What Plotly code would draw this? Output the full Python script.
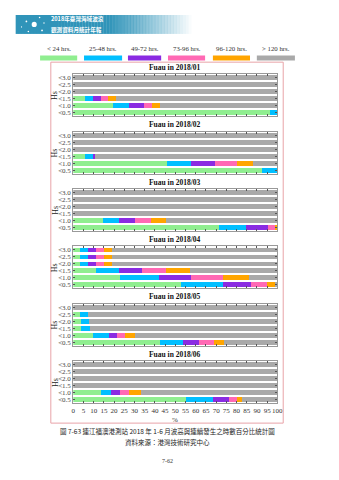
import plotly.graph_objects as go

# ---------------- data ----------------
rows = ["<0.5", "<1.0", "<1.5", "<2.0", "<2.5", "<3.0"]
months = ["2018/01", "2018/02", "2018/03", "2018/04", "2018/05", "2018/06"]
series_names = ["< 24 hrs.", "25-48 hrs.", "49-72 hrs.", "73-96 hrs.", "96-120 hrs.", "> 120 hrs."]
series_colors = ["#90EE90", "#00BFFF", "#8A2BE2", "#FF69B4", "#FFA500", "#A9A9A9"]

# values per month, per row (<0.5 ... <3.0), in %
lt24 = [
    [96.2, 19.6, 5.6, 0, 0, 0],
    [92.3, 45.9, 5.6, 0, 0, 0],
    [71.5, 14.8, 0, 0, 0, 0],
    [52.6, 22.8, 11.0, 3.3, 3.3, 3.3],
    [42.3, 9.9, 3.8, 3.7, 3.3, 0],
    [55.3, 13.7, 0, 0, 0, 0],
]
h25_48 = [
    [3.8, 7.7, 4.0, 0, 0, 0],
    [7.7, 11.8, 4.1, 0, 0, 0],
    [13.2, 7.7, 0, 0, 0, 0],
    [20.9, 19.3, 11.3, 3.8, 3.8, 3.8],
    [11.6, 7.7, 4.3, 4.0, 4.1, 0],
    [13.1, 4.6, 0, 0, 0, 0],
]
h49_72 = [
    [0, 7.2, 3.8, 0, 0, 0],
    [0, 11.6, 1.1, 0, 0, 0],
    [10.8, 7.7, 0, 0, 0, 0],
    [13.7, 15.6, 11.6, 4.0, 4.0, 4.0],
    [7.8, 4.0, 0, 0, 0, 0],
    [7.8, 4.6, 0, 0, 0, 0],
]
h73_96 = [
    [0, 4.0, 3.8, 0, 0, 0],
    [0, 10.8, 0, 0, 0, 0],
    [3.5, 7.7, 0, 0, 0, 0],
    [7.8, 15.5, 11.5, 3.8, 3.8, 3.8],
    [7.2, 3.8, 0, 0, 0, 0],
    [4.0, 4.3, 0, 0, 0, 0],
]
h96_120 = [
    [0, 4.0, 3.8, 0, 0, 0],
    [0, 8.0, 0, 0, 0, 0],
    [1.0, 7.5, 0, 0, 0, 0],
    [4.0, 12.8, 11.8, 4.0, 4.0, 4.0],
    [5.1, 4.8, 0, 0, 0, 0],
    [2.4, 5.9, 0, 0, 0, 0],
]
gt120 = [
    [0, 57.5, 79.0, 100, 100, 100],
    [0, 11.9, 89.2, 100, 100, 100],
    [0, 54.6, 100, 100, 100, 100],
    [1.0, 14.0, 42.8, 81.1, 81.1, 81.1],
    [26.0, 69.8, 91.9, 92.3, 92.6, 100],
    [17.4, 66.9, 100, 100, 100, 100],
]
x_ticks = list(range(0, 101, 5))

all_series = [lt24, h25_48, h49_72, h73_96, h96_120, gt120]

W, H = 339, 480


def px(x):
    return x / W


def py(y):
    return 1 - y / H


SERIF = "Liberation Serif"
CJK = "Noto Sans CJK TC"

annotations = []
shapes = []


def label(text, x, y, size, family=SERIF, color="#333", xanchor="center",
          yanchor="middle", **kw):
    annotations.append(dict(text=text, x=px(x), y=py(y), xref="paper", yref="paper",
                            xanchor=xanchor, yanchor=yanchor, showarrow=False,
                            font=dict(family=family, size=size, color=color), **kw))


fig = go.Figure()
layout = dict(
    width=W, height=H, margin=dict(l=0, r=0, t=0, b=0),
    paper_bgcolor="white", plot_bgcolor="white",
    showlegend=False, barmode="stack", bargap=0.3,
)

plot_l, plot_r = 73, 282
first_top, pitch, plot_h = 74.5, 57.5, 42

for i, m in enumerate(months):
    xa = "x" if i == 0 else f"x{i+1}"
    ya = "y" if i == 0 else f"y{i+1}"
    for s, vals in enumerate(all_series):
        fig.add_trace(go.Bar(
            x=vals[i], y=rows, orientation="h",
            marker=dict(color=series_colors[s], line=dict(width=0)),
            xaxis=xa, yaxis=ya, name=series_names[s], hoverinfo="skip",
        ))
    top = first_top + i * pitch
    bot = top + plot_h
    xkey = "xaxis" if i == 0 else f"xaxis{i+1}"
    ykey = "yaxis" if i == 0 else f"yaxis{i+1}"
    layout[xkey] = dict(
        domain=[px(plot_l), px(plot_r)], anchor=ya, range=[0, 100],
        tickmode="array", tickvals=x_ticks, ticktext=[str(v) for v in x_ticks],
        tickangle=0,
        showticklabels=(i == len(months) - 1),
        ticks="inside", ticklen=2, tickcolor="#555", tickwidth=1,
        showline=True, linecolor="#999", linewidth=1, mirror="ticks",
        showgrid=False, zeroline=False, fixedrange=True,
        tickfont=dict(family=SERIF, size=7, color="#333"),
    )
    layout[ykey] = dict(
        domain=[py(bot), py(top)], anchor=xa,
        categoryorder="array", categoryarray=rows,
        tickmode="array", tickvals=rows, ticktext=rows,
        ticks="inside", ticklen=2, tickcolor="#555",
        showline=True, linecolor="#999", linewidth=1, mirror="ticks",
        showgrid=False, zeroline=False, fixedrange=True,
        tickfont=dict(family=SERIF, size=7, color="#444"),
    )
    label(f"<b>Fuau in {m}</b>", (plot_l + plot_r) / 2, top - 7, 7.5, color="#111")
    label("Hs", 54, (top + bot) / 2, 8, color="#222", textangle=-90)

# x axis title
label("%", 177.5, 420.5, 7)

# legend (text above colour swatches)
leg_boxes = [(39, 77), (84, 123), (129, 163), (170, 208), (216, 254), (261, 300)]
for (x0, x1), name, col in zip(leg_boxes, series_names, series_colors):
    shapes.append(dict(type="rect", xref="paper", yref="paper",
                       x0=px(x0), x1=px(x1), y0=py(60.7), y1=py(55.7),
                       fillcolor=col, line=dict(width=0)))
    label(name, (x0 + x1) / 2, 48.5, 6.8)

# pink outer frame
shapes.append(dict(type="rect", xref="paper", yref="paper",
                   x0=px(50), x1=px(288), y0=py(424), y1=py(62.3),
                   line=dict(color="#E8A3A8", width=1), fillcolor="rgba(0,0,0,0)"))

# header banner with a fading gradient
n = 60
bx0, bx1 = 14, 200
for k in range(n):
    xa0 = bx0 + (bx1 - bx0) * k / n
    xa1 = bx0 + (bx1 - bx0) * (k + 1) / n
    xc = (xa0 + xa1) / 2
    if xc < 110:
        op = 1.0
    else:
        op = max(0.0, 1 - (xc - 110) / 85)
    shapes.append(dict(type="rect", xref="paper", yref="paper",
                       x0=px(xa0), x1=px(xa1 + 0.3), y0=py(34), y1=py(15),
                       fillcolor=f"rgba(48,148,185,{op:.3f})", line=dict(width=0),
                       layer="below"))
# logo dots
for (cx, cy, r) in [(33, 24.5, 2.6), (25, 21.5, 0.9), (38.5, 17.5, 0.8), (41, 30.5, 0.9),
                    (27, 31.5, 0.8), (43, 23, 0.7), (20, 27, 0.6)]:
    shapes.append(dict(type="circle", xref="paper", yref="paper",
                       x0=px(cx - r), x1=px(cx + r), y0=py(cy + r), y1=py(cy - r),
                       fillcolor="white", line=dict(width=0)))
label("<b>2018年臺灣海域波浪</b>", 49, 24.3, 5.6, family=CJK, color="white",
      xanchor="left", yanchor="bottom", borderpad=0)
label("<b>觀測資料月統計年報</b>", 49, 24.7, 5.6, family=CJK, color="white",
      xanchor="left", yanchor="top", borderpad=0)

# caption
label("圖 7-63 連江福澳港測站 2018 年 1-6 月波高與連續發生之時數百分比統計圖",
      170, 432, 6.5, family=CJK, color="#222")
label("資料來源：港灣技術研究中心", 170, 443, 6.5, family=CJK, color="#222")
label("7-62", 170, 462, 6)

layout["annotations"] = annotations
layout["shapes"] = shapes
fig.update_layout(**layout)
fig.write_html("out.html")
